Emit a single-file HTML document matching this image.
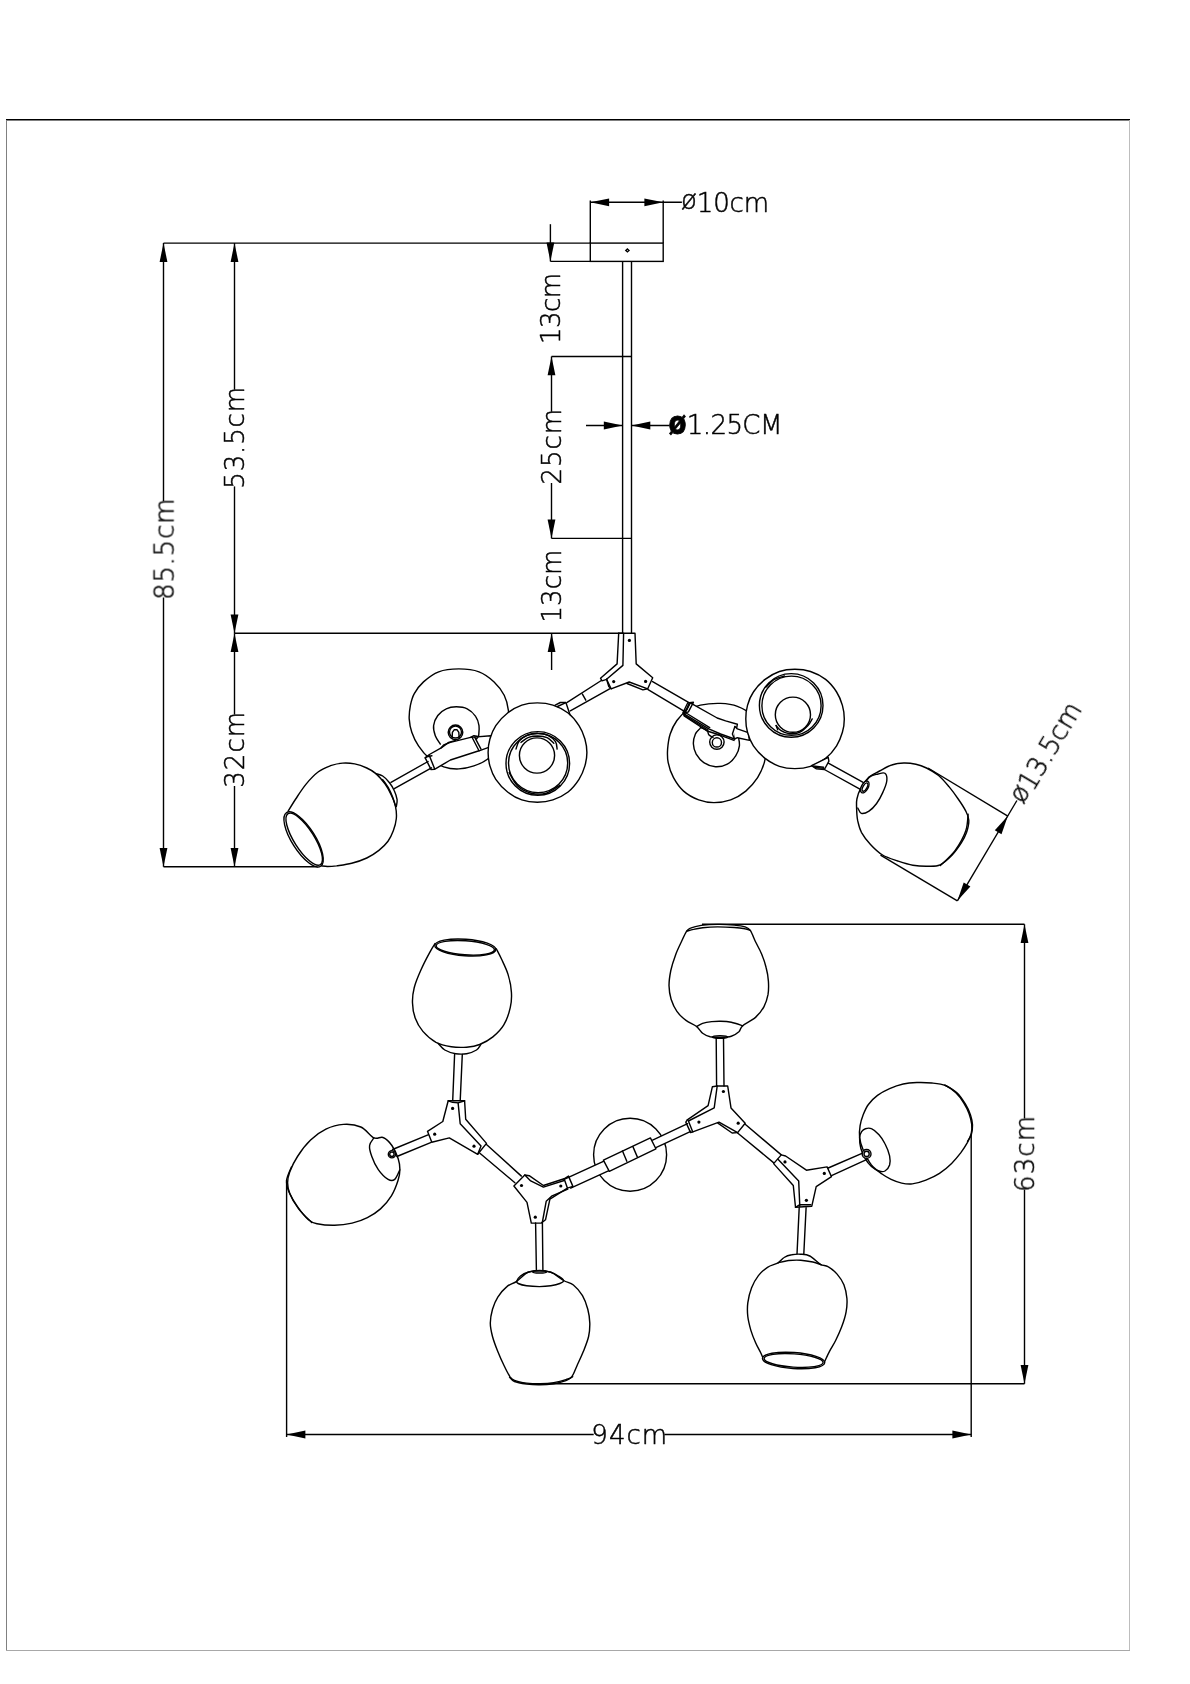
<!DOCTYPE html>
<html><head><meta charset="utf-8"><title>Dimensions</title>
<style>
html,body{margin:0;padding:0;background:#fff}
svg{display:block}
.l{stroke:#000;stroke-width:1.4;fill:none;stroke-linecap:butt}
.s{stroke:#000;stroke-width:1.42;fill:none;stroke-linejoin:round;stroke-linecap:round}
.w{stroke:#000;stroke-width:1.42;fill:#fff;stroke-linejoin:round;stroke-linecap:round}
.k{fill:#000;stroke:none}
.f{fill:#fff;stroke:none}
.a{fill:#000;stroke:none}
.t{font-family:"DejaVu Sans Light","DejaVu Sans","Liberation Sans",sans-serif;font-weight:200;fill:#000;stroke:#000;stroke-width:.5}
.tg{opacity:.999}
.b{font-family:"DejaVu Sans","Liberation Sans",sans-serif;font-weight:700;stroke-width:.8}
</style></head><body>
<svg width="1190" height="1684" viewBox="0 0 1190 1684">
<rect width="1190" height="1684" fill="#fff"/>
<line x1="6" y1="119.8" x2="1130" y2="119.8" stroke="#000" stroke-width="1.5"/>
<line x1="6.5" y1="120" x2="6.5" y2="1651" stroke="#808080" stroke-width="1"/>
<line x1="1129.5" y1="120" x2="1129.5" y2="1651" stroke="#bdbdbd" stroke-width="1"/>
<line x1="6" y1="1650.5" x2="1130" y2="1650.5" stroke="#a8a8a8" stroke-width="1"/>
<rect class="l" x="590.3" y="243.1" width="72.9" height="18.3"/>
<line class="l" x1="590.3" y1="200.5" x2="590.3" y2="243.1"/>
<line class="l" x1="663.2" y1="200.5" x2="663.2" y2="243.1"/>
<line class="l" x1="590.3" y1="202.3" x2="681.9" y2="202.3"/>
<polygon class="a" points="590.3,202.3 609.1,198.4 609.1,206.2"/>
<polygon class="a" points="663.2,202.3 644.4,206.2 644.4,198.4"/>
<path class="l" d="M627.4 248.9 L629 250.4 L627.4 251.9 L625.8 250.4 Z"/>
<line class="l" x1="622.6" y1="261.4" x2="622.6" y2="633.2"/>
<line class="l" x1="631.5" y1="261.4" x2="631.5" y2="633.2"/>
<line class="l" x1="163.5" y1="243.1" x2="590.3" y2="243.1"/>
<line class="l" x1="550.4" y1="261.4" x2="590.3" y2="261.4"/>
<line class="l" x1="550.4" y1="224.2" x2="550.4" y2="261.4"/>
<polygon class="a" points="550.4,261.4 546.5,242.6 554.3,242.6"/>
<line class="l" x1="551.5" y1="356.5" x2="631.5" y2="356.5"/>
<line class="l" x1="551.5" y1="538.4" x2="631.5" y2="538.4"/>
<line class="l" x1="551.5" y1="356.5" x2="551.5" y2="411.8"/>
<line class="l" x1="551.5" y1="483" x2="551.5" y2="538.4"/>
<polygon class="a" points="551.5,356.5 555.4,375.3 547.6,375.3"/>
<polygon class="a" points="551.5,538.4 547.6,519.6 555.4,519.6"/>
<line class="l" x1="234.5" y1="633.2" x2="622.6" y2="633.2"/>
<line class="l" x1="551.6" y1="633.2" x2="551.6" y2="670"/>
<polygon class="a" points="551.6,633.2 555.5,652.0 547.7,652.0"/>
<line class="l" x1="586" y1="425.5" x2="622.6" y2="425.5"/>
<polygon class="a" points="622.6,425.5 603.8,429.4 603.8,421.6"/>
<line class="l" x1="631.5" y1="425.5" x2="669.6" y2="425.5"/>
<polygon class="a" points="631.5,425.5 650.3,421.6 650.3,429.4"/>
<line class="l" x1="163.5" y1="243.1" x2="163.5" y2="501.3"/>
<line class="l" x1="163.5" y1="597.6" x2="163.5" y2="866.7"/>
<polygon class="a" points="163.5,243.1 167.4,261.9 159.6,261.9"/>
<polygon class="a" points="163.5,866.7 159.6,847.9 167.4,847.9"/>
<line class="l" x1="234.5" y1="243.1" x2="234.5" y2="389.7"/>
<line class="l" x1="234.5" y1="486.4" x2="234.5" y2="633.2"/>
<polygon class="a" points="234.5,243.1 238.4,261.9 230.6,261.9"/>
<polygon class="a" points="234.5,633.2 230.6,614.4 238.4,614.4"/>
<line class="l" x1="234.5" y1="633.2" x2="234.5" y2="714.6"/>
<line class="l" x1="234.5" y1="786" x2="234.5" y2="866.7"/>
<polygon class="a" points="234.5,633.2 238.4,652.0 230.6,652.0"/>
<polygon class="a" points="234.5,866.7 230.6,847.9 238.4,847.9"/>
<line class="l" x1="163.5" y1="866.7" x2="318" y2="866.7"/>
<line class="l" x1="928" y1="768" x2="1007.8" y2="816.1"/>
<line class="l" x1="880.5" y1="855.2" x2="957.4" y2="900.8"/>
<line class="l" x1="957.4" y1="900.8" x2="1016.9" y2="800.5"/>
<polygon class="a" points="1007.8,816.1 1001.5,834.3 994.8,830.3"/>
<polygon class="a" points="957.4,900.8 963.7,882.6 970.4,886.6"/>
<line class="l" x1="702" y1="924.3" x2="1024.5" y2="924.3"/>
<line class="l" x1="1024.5" y1="924.3" x2="1024.5" y2="1118.5"/>
<line class="l" x1="1024.5" y1="1189.7" x2="1024.5" y2="1383.8"/>
<polygon class="a" points="1024.5,924.3 1028.4,943.1 1020.6,943.1"/>
<polygon class="a" points="1024.5,1383.8 1020.6,1365.0 1028.4,1365.0"/>
<line class="l" x1="539" y1="1383.8" x2="1024.5" y2="1383.8"/>
<line class="l" x1="971.2" y1="1127" x2="971.2" y2="1437"/>
<line class="l" x1="286.6" y1="1180" x2="286.6" y2="1437"/>
<line class="l" x1="286.6" y1="1434.5" x2="593.7" y2="1434.5"/>
<line class="l" x1="664.4" y1="1434.5" x2="971.2" y2="1434.5"/>
<polygon class="a" points="286.6,1434.5 305.4,1430.6 305.4,1438.4"/>
<polygon class="a" points="971.2,1434.5 952.4,1438.4 952.4,1430.6"/>
<g class="tg">
<text class="t" font-size="26" letter-spacing="-0.18" x="681.12" y="211.6"><tspan dy="-2.6">ø</tspan><tspan dy="2.6">10cm</tspan></text>
<text class="t b" font-size="32" transform="translate(669.3,433.6) scale(0.82,1)" x="-0.96" y="0">ø</text>
<text class="t" font-size="26" letter-spacing="-0.58" x="686.80" y="434">1.25CM</text>
<text class="t" font-size="26" letter-spacing="-0.50" transform="translate(559.80,341.5) rotate(-90)" x="-2.60" y="0">13cm</text>
<text class="t" font-size="26" letter-spacing="0.99" transform="translate(560.80,483) rotate(-90)" x="-1.56" y="0">25cm</text>
<text class="t" font-size="26" letter-spacing="0.07" transform="translate(561.40,620) rotate(-90)" x="-2.60" y="0">13cm</text>
<text class="t" font-size="26" letter-spacing="0.85" transform="translate(244.00,486.4) rotate(-90)" x="-2.34" y="0">53.5cm</text>
<text class="t" font-size="26" letter-spacing="0.77" transform="translate(173.60,597.6) rotate(-90)" x="-2.34" y="0">85.5cm</text>
<text class="t" font-size="26" letter-spacing="1.04" transform="translate(244.10,785.9) rotate(-90)" x="-1.82" y="0">32cm</text>
<text class="t" font-size="26" letter-spacing="1.18" transform="translate(1034.10,1189.7) rotate(-90)" x="-2.34" y="0">63cm</text>
<text class="t" font-size="26" letter-spacing="1.01" x="591.36" y="1443.7">94cm</text>
<text class="t" font-size="26" letter-spacing="-0.09" transform="translate(1016.70,800.20) rotate(-59.25)" x="-0.78" y="10.2"><tspan dy="-2.6">ø</tspan><tspan dy="2.6">13.5cm</tspan></text>
</g>
<path class="w" d="M458.8 668.9C465.5 668.9 473.1 669.6 479.0 671.8C484.9 674.0 489.9 678.0 494.1 681.9C498.3 685.8 501.8 690.6 504.2 695.3C506.6 700.1 507.8 704.9 508.4 710.5C509.0 716.1 508.8 723.1 507.6 728.9C506.3 734.8 504.2 740.7 500.8 745.8C497.5 750.8 491.9 755.8 487.4 759.2C482.9 762.6 478.7 764.3 473.9 765.9C469.2 767.5 463.9 768.8 458.8 768.9C453.8 769.1 448.6 768.5 443.7 766.8C438.8 765.0 433.6 761.9 429.4 758.4C425.2 754.9 421.4 750.1 418.5 745.8C415.5 741.4 413.3 736.8 411.8 732.3C410.2 727.8 409.5 723.3 409.2 718.9C409.0 714.4 409.6 709.6 410.4 705.4C411.3 701.2 412.1 697.6 414.3 693.7C416.5 689.7 419.5 685.5 423.5 681.9C427.6 678.2 432.8 674.0 438.7 671.8C444.5 669.6 452.1 668.9 458.8 668.9Z"/>
<path class="s" d="M440.3 744.1C439.5 742.7 436.4 738.8 435.3 735.7C434.2 732.6 433.2 728.9 433.6 725.6C434.0 722.2 435.7 718.3 437.8 715.5C439.9 712.7 443.1 710.2 446.2 708.8C449.3 707.3 452.8 706.8 456.3 706.8C459.8 706.8 464.0 707.2 467.2 708.8C470.4 710.4 473.7 713.5 475.6 716.3C477.6 719.1 478.5 722.4 479.0 725.6C479.5 728.8 478.7 734.0 478.7 735.7"/>
<circle class="s" cx="455.5" cy="732.3" r="7.3"/>
<circle class="s" cx="455.5" cy="732.0" r="6.0"/>
<path class="s" d="M452.1 738.2L452.4 732.3L454.1 729.8L457.1 729.8L458.8 732.3L459.2 738.2"/>
<path class="w" d="M425.2 757.9L429.4 754.5L441.2 747.8L443.7 744.9L450.4 742.4L455.5 741.1L470.6 737.4L490.8 735.7L490.8 746.6L479.0 750.8L450.4 760.0L434.5 769.3L431.1 769.6L425.2 757.9Z"/>
<path class="s" d="M470.6 737.4L473.9 735.7L478.2 736.5L476.5 739.0"/>
<path class="s" d="M472.3 737.7L479.0 750.8"/>
<path class="s" d="M474.8 737.4L481.0 749.1"/>
<path class="s" d="M429.4 755.8L434.5 768.4"/>
<path class="s" d="M425.2 757.9L426.9 756.7L431.9 755.8"/>
<path class="s" d="M441.2 747.8L448.7 742.4L455.5 740.4"/>
<path class="w" d="M288.2 811.1C289.4 809.1 292.7 803.5 295.7 799.0C298.7 794.5 302.5 788.4 306.3 783.9C310.1 779.3 314.4 774.8 318.4 771.8C322.4 768.7 326.5 767.2 330.5 765.7C334.5 764.3 338.6 763.4 342.6 763.1C346.6 762.8 350.7 763.1 354.7 763.9C358.7 764.7 363.3 766.4 366.8 768.0C370.3 769.6 372.9 770.9 375.9 773.6C378.9 776.2 382.4 780.4 385.0 783.9C387.5 787.3 389.2 790.7 391.0 794.5C392.8 798.2 394.7 802.5 395.5 806.6C396.4 810.6 396.7 814.6 396.3 818.7C395.9 822.7 394.7 827.0 393.3 830.8C391.9 834.5 390.4 838.1 388.0 841.3C385.6 844.6 382.4 847.6 378.9 850.4C375.4 853.2 371.3 855.8 366.8 858.0C362.3 860.1 356.7 862.0 351.7 863.3C346.6 864.6 340.6 865.3 336.6 865.9C332.5 866.4 330.0 866.5 327.5 866.5C325.0 866.5 322.4 866.0 321.4 865.9"/>
<ellipse class="w" cx="303.6" cy="839.4" rx="31.8" ry="11.6" transform="rotate(57.6 303.6 839.4)"/>
<ellipse class="s" cx="304.2" cy="839.2" rx="30.2" ry="10.0" transform="rotate(57.6 304.2 839.2)"/>
<path class="s" d="M375.9 773.6C377.0 774.0 380.4 774.5 382.7 776.0C385.0 777.5 387.6 780.2 389.5 782.7C391.4 785.1 393.1 787.8 394.3 790.7C395.6 793.5 396.7 797.1 397.1 799.7C397.4 802.4 396.4 805.4 396.3 806.6"/>
<path class="s" d="M382.7 779.6C383.7 781.1 387.1 785.4 388.7 788.4C390.4 791.4 391.7 794.7 392.8 797.5C393.9 800.3 394.8 803.8 395.2 805.0"/>
<path class="s" d="M391.0 782.4L428.1 761.5"/>
<path class="s" d="M394.3 788.7L431.5 767.8"/>
<path class="w" d="M720.6 703.4C726.8 703.6 732.1 704.2 737.4 706.3C742.7 708.3 748.3 711.4 752.5 715.5C756.7 719.6 760.4 725.0 762.6 730.6C764.8 736.2 765.7 743.8 766.0 749.1C766.2 754.4 765.7 757.8 764.3 762.6C762.9 767.3 760.6 772.9 757.6 777.7C754.5 782.5 750.3 787.4 745.8 791.1C741.3 794.8 736.0 798.0 730.7 799.9C725.4 801.8 719.2 802.6 713.9 802.6C708.5 802.6 703.8 801.8 698.7 799.9C693.7 798.0 687.8 794.8 683.6 791.1C679.4 787.4 676.1 782.5 673.5 777.7C671.0 772.9 669.1 767.3 668.2 762.6C667.2 757.8 667.3 753.9 667.6 749.1C668.0 744.4 668.6 738.8 670.2 734.0C671.7 729.2 674.1 724.5 676.9 720.5C679.7 716.6 683.1 713.0 687.0 710.5C690.9 707.9 694.8 706.3 700.4 705.1C706.0 703.9 714.4 703.2 720.6 703.4Z"/>
<path class="s" d="M700.1 728.4C699.3 729.4 696.5 731.4 695.4 734.0C694.3 736.6 693.2 740.7 693.4 744.1C693.5 747.4 694.5 751.1 696.2 754.2C698.0 757.2 700.6 760.5 703.8 762.6C707.0 764.7 711.6 766.5 715.5 766.8C719.5 767.0 723.9 766.1 727.3 764.2C730.7 762.4 733.7 758.9 735.7 755.8C737.7 752.8 739.0 749.1 739.4 745.8C739.8 742.4 738.4 737.4 738.2 735.7"/>
<circle class="s" cx="716.9" cy="742.1" r="7.2"/>
<circle class="s" cx="716.9" cy="742.4" r="4.6"/>
<path class="s" d="M700.4 727.3C701.5 727.8 705.7 729.4 707.1 730.6C708.5 731.9 707.8 733.7 708.8 734.8C709.8 736.0 712.3 736.9 713.0 737.4"/>
<path class="w" d="M690.3 702.9L717.2 718.0L725.6 720.9L737.4 724.2L734.5 739.0L720.6 734.0L708.8 728.9L684.5 714.2Z"/>
<path class="s" d="M683.6 714.8L708.0 730.0"/>
<path class="s" d="M684.1 715.8L707.1 731.0L720.6 735.3L734.0 740.4"/>
<path class="s" d="M686.1 713.0L709.7 727.6"/>
<path class="s" d="M689.5 703.4L684.5 713.0"/>
<path class="s" d="M687.8 702.7L682.8 713.0L684.5 714.2"/>
<path class="w" d="M734.9 726.4L737.4 728.9L748.3 732.6L749.5 740.4L737.4 737.7L734.5 739.0"/>
<path class="s" d="M734.9 726.4L732.4 734.0L734.5 739.0"/>
<path class="s" d="M652.6 681.6L689.4 702.8"/>
<path class="s" d="M648.1 689.7L684.4 711.3"/>
<path class="s" d="M689.4 702.8L693.4 702.3L688.4 711.8L683.4 713.6L684.4 711.3"/>
<path class="s" d="M689.4 702.8L686.9 709.3L684.4 711.3"/>
<path class="w" d="M537.3 702.9C542.5 702.9 547.8 703.4 552.9 705.1C558.1 706.8 563.7 709.6 568.1 713.0C572.4 716.4 576.2 721.2 579.0 725.6C581.8 729.9 583.6 734.6 584.9 739.0C586.2 743.5 586.9 748.0 586.9 752.5C586.9 757.0 586.2 761.4 584.9 765.9C583.6 770.4 581.8 775.0 579.0 779.4C576.2 783.7 572.4 788.6 568.1 792.0C563.7 795.4 558.1 798.2 552.9 799.9C547.8 801.6 542.5 802.2 537.3 802.2C532.1 802.2 526.8 801.6 521.8 799.9C516.9 798.2 511.9 795.4 507.6 792.0C503.2 788.6 498.7 783.7 495.8 779.4C492.9 775.0 491.2 770.4 489.9 765.9C488.6 761.4 488.1 757.0 488.1 752.5C488.1 748.0 488.6 743.5 489.9 739.0C491.2 734.6 492.9 729.9 495.8 725.6C498.7 721.2 503.2 716.4 507.6 713.0C511.9 709.6 516.9 706.8 521.8 705.1C526.8 703.4 532.1 702.9 537.3 702.9Z"/>
<circle class="s" cx="537.8" cy="763.4" r="31.8"/>
<circle class="s" cx="538.1" cy="763.1" r="29.6"/>
<path class="s" d="M509.2 772.6C510.6 774.9 514.0 782.7 517.6 786.1C521.3 789.5 526.3 792.0 531.1 793.2C535.9 794.3 541.5 794.5 546.2 793.2C551.0 791.8 557.4 786.6 559.7 785.3"/>
<circle class="s" cx="537.0" cy="755.5" r="17.6"/>
<path class="s" d="M516.0 749.1C516.5 747.7 517.4 743.1 519.3 740.7C521.3 738.3 524.6 736.1 527.7 734.8C530.8 733.6 534.5 733.1 537.8 733.2C541.2 733.2 545.0 733.9 547.9 735.3C550.8 736.7 553.9 739.3 555.5 741.6C557.0 743.9 556.9 747.9 557.1 749.1"/>
<path class="s" d="M521.0 742.4C522.3 741.6 525.8 738.4 528.6 737.4C531.4 736.3 534.7 736.0 537.8 736.0C540.9 736.1 544.4 736.5 547.1 737.7C549.7 738.9 552.7 742.3 553.8 743.2"/>
<path class="s" d="M554.8 705.3L560.3 702.5L565.9 702.5L569.9 714.4"/>
<path class="s" d="M557.5 706.5L565.9 702.7"/>
<path class="s" d="M601.3 680.5L567.2 702.4"/>
<path class="s" d="M609.6 688.8L570.3 710.8"/>
<path class="s" d="M582.4 694.1L585.8 700.2"/>
<path class="w" d="M794.9 669.3C800.1 669.3 805.4 669.8 810.5 671.5C815.6 673.2 821.3 676.0 825.6 679.4C830.0 682.8 833.8 687.6 836.6 692.0C839.4 696.3 841.1 700.9 842.4 705.4C843.7 709.9 844.3 714.4 844.3 718.9C844.3 723.3 843.7 727.8 842.4 732.3C841.1 736.8 839.4 741.4 836.6 745.8C833.8 750.1 830.0 754.9 825.6 758.4C821.3 761.8 815.6 764.6 810.5 766.3C805.4 768.0 800.1 768.6 794.9 768.6C789.7 768.6 784.4 768.0 779.4 766.3C774.5 764.6 769.5 761.8 765.1 758.4C760.8 754.9 756.3 750.1 753.4 745.8C750.4 741.4 748.7 736.8 747.5 732.3C746.2 727.8 745.8 723.3 745.8 718.9C745.8 714.4 746.2 709.9 747.5 705.4C748.7 700.9 750.4 696.3 753.4 692.0C756.3 687.6 760.8 682.8 765.1 679.4C769.5 676.0 774.5 673.2 779.4 671.5C784.4 669.8 789.7 669.3 794.9 669.3Z"/>
<circle class="s" cx="791.2" cy="705.4" r="31.8"/>
<circle class="s" cx="791.5" cy="705.7" r="29.6"/>
<path class="s" d="M766.0 686.9C767.4 685.7 771.3 681.2 774.4 679.4C777.5 677.5 782.8 676.6 784.5 676.0"/>
<circle class="s" cx="792.9" cy="714.7" r="17.6"/>
<path class="s" d="M776.1 725.6C776.9 726.4 778.9 729.3 781.1 730.6C783.3 732.0 786.4 733.4 789.5 733.7C792.6 733.9 796.5 733.7 799.6 732.3C802.7 731.0 805.9 727.8 808.0 725.6C810.1 723.3 811.5 720.0 812.2 718.9"/>
<path class="s" d="M776.1 725.6L777.7 729.8"/>
<path class="s" d="M827.4 762.7L864.5 783.1"/>
<path class="s" d="M824.4 769.5L859.9 789.2"/>
<path class="w" d="M811.5 765.7L828.2 757.4L828.9 761.2L824.4 769.5L816.1 768.7Z"/>
<path class="s" d="M813.0 766.0L823.6 767.2"/>
<path class="s" d="M814.5 767.2L823.9 768.4"/>
<path class="w" d="M869.0 777.1C872.1 774.2 875.8 773.0 879.6 771.0C883.4 769.0 887.6 766.3 891.7 765.0C895.7 763.6 899.7 763.1 903.8 763.0C907.8 762.9 912.1 763.4 915.9 764.2C919.7 765.0 922.7 766.1 926.5 768.0C930.3 769.9 934.8 772.4 938.6 775.5C942.4 778.7 945.9 783.0 949.2 786.9C952.4 790.8 955.5 795.0 958.2 799.0C961.0 803.0 964.0 807.6 965.8 811.1C967.6 814.6 968.7 816.6 968.8 820.2C969.0 823.7 967.8 828.5 966.6 832.3C965.3 836.1 963.7 839.1 961.3 842.9C958.9 846.6 955.7 851.3 952.2 855.0C948.7 858.6 944.1 862.9 940.1 864.8C936.1 866.7 932.5 866.2 928.0 866.3C923.4 866.4 917.9 866.1 912.9 865.2C907.8 864.4 902.8 862.7 897.7 861.0C892.7 859.3 887.1 857.7 882.6 855.0C878.1 852.2 874.0 848.2 870.5 844.4C867.0 840.6 863.6 836.3 861.4 832.3C859.3 828.2 858.5 824.2 857.6 820.2C856.8 816.1 856.7 811.6 856.6 808.1C856.5 804.5 856.2 802.3 856.9 799.0C857.6 795.7 858.7 792.1 860.7 788.4C862.7 784.7 865.8 780.0 869.0 777.1Z"/>
<path class="s" d="M859.9 791.4C861.4 789.1 866.0 780.4 869.0 777.5C872.0 774.6 875.4 774.7 878.1 774.0C880.7 773.3 883.4 772.1 884.9 773.3C886.3 774.4 887.2 777.6 886.8 780.8C886.5 784.1 884.3 789.2 882.6 792.9C880.9 796.7 878.8 800.5 876.6 803.5C874.3 806.6 871.5 809.5 869.0 811.1C866.5 812.7 863.3 813.9 861.4 813.4C859.6 812.9 858.4 809.0 857.8 808.1"/>
<path class="s" d="M968.1 814.1C967.7 816.9 967.9 824.7 965.8 830.8C963.7 836.8 959.4 844.6 955.2 850.4C951.0 856.2 942.9 863.0 940.4 865.5"/>
<ellipse class="w" cx="864.8" cy="787.0" rx="3.3" ry="6.4" transform="rotate(29.0 864.8 787.0)"/>
<ellipse class="s" cx="865.0" cy="787.1" rx="2.0" ry="4.6" transform="rotate(29.0 865.0 787.1)"/>
<path class="w" d="M618.7 633.3L617.1 663.9L600.5 678.2L602.0 680.8L606.6 679.3"/>
<path class="w" d="M623.6 633.3L635.0 633.3L636.2 663.9L652.7 677.8L647.7 688.8L629.2 682.0L611.1 688.8L606.6 679.3L622.9 665.4Z"/>
<path class="s" d="M618.7 633.3L623.6 633.3"/>
<path class="s" d="M627.0 683.5L642.9 689.9L647.7 688.8"/>
<path class="s" d="M606.6 679.3L608.8 686.6L611.1 688.8"/>
<circle class="k" cx="629.4" cy="640.4" r="1.6"/>
<circle class="k" cx="613.7" cy="681.6" r="1.6"/>
<circle class="k" cx="645.6" cy="681.4" r="1.6"/>
<circle class="w" cx="630.1" cy="1154.7" r="36.5"/>
<path class="f" d="M564.1 1179.4L604.5 1160.8L608.9 1170.7L570.7 1188.1Z"/>
<path class="f" d="M652.6 1140.1L687.6 1123.7L690.8 1131.3L655.9 1147.7Z"/>
<path class="s" d="M564.1 1179.4L604.5 1160.8"/>
<path class="s" d="M570.7 1188.1L608.9 1170.7"/>
<path class="s" d="M652.6 1140.1L687.6 1123.7"/>
<path class="s" d="M655.9 1147.7L690.8 1131.3"/>
<path class="w" d="M603.4 1160.2L650.4 1137.9L655.9 1148.8L609.3 1171.3Z"/>
<path class="s" d="M622.5 1151.0L626.8 1161.3"/>
<path class="s" d="M632.9 1146.6L637.3 1156.9"/>
<path class="w" d="M435.0 943.6C434.0 945.1 431.9 948.3 429.5 952.8C427.1 957.2 423.3 964.4 420.8 970.3C418.2 976.1 415.6 982.3 414.2 987.7C412.8 993.2 412.3 997.9 412.5 1003.0C412.6 1008.1 413.5 1013.6 415.3 1018.3C417.0 1023.1 419.5 1027.4 422.9 1031.4C426.4 1035.4 431.3 1039.8 436.0 1042.4C440.8 1044.9 446.2 1045.9 451.3 1046.7C456.4 1047.5 461.9 1047.5 466.6 1047.2C471.4 1046.8 475.4 1046.2 479.7 1044.5C484.1 1042.8 488.8 1040.2 492.9 1036.9C496.9 1033.6 500.9 1029.8 503.8 1024.9C506.7 1020.0 509.1 1012.9 510.3 1007.4C511.6 1001.9 511.8 997.6 511.4 992.1C511.1 986.6 509.8 980.1 508.1 974.6C506.5 969.2 503.6 963.6 501.6 959.3C499.6 955.0 497.2 950.6 496.3 948.8"/>
<ellipse class="w" cx="465.3" cy="947.5" rx="30.6" ry="8.3" transform="rotate(4.0 465.3 947.5)"/>
<ellipse class="s" cx="465.3" cy="947.8" rx="29.2" ry="7.0" transform="rotate(4.0 465.3 947.8)"/>
<path class="s" d="M438.2 1043.4C439.3 1044.5 441.9 1048.3 444.8 1050.0C447.7 1051.7 452.1 1053.1 455.7 1053.7C459.4 1054.3 463.2 1054.3 466.6 1053.7C470.1 1053.1 474.1 1051.5 476.5 1050.0C478.8 1048.5 480.1 1045.4 480.8 1044.5"/>
<path class="s" d="M454.6 1054.4L452.7 1100.9"/>
<path class="s" d="M462.3 1054.4L460.2 1100.9"/>
<path class="w" d="M373.9 1137.9C370.2 1136.2 365.9 1129.2 360.8 1127.0C355.7 1124.7 349.2 1124.0 343.4 1124.4C337.5 1124.7 331.3 1126.5 325.9 1129.2C320.4 1131.8 315.3 1135.5 310.6 1140.1C305.9 1144.6 300.9 1151.2 297.5 1156.5C294.0 1161.7 291.5 1167.4 289.8 1171.8C288.2 1176.1 287.6 1179.0 287.6 1182.7C287.6 1186.3 288.2 1189.6 289.8 1193.6C291.5 1197.6 294.4 1202.4 297.5 1206.7C300.6 1211.1 305.1 1217.0 308.4 1219.8C311.7 1222.7 312.8 1222.9 317.1 1223.8C321.5 1224.7 328.8 1225.4 334.6 1225.3C340.4 1225.2 346.6 1224.4 352.1 1223.1C357.6 1221.8 362.7 1220.0 367.4 1217.6C372.1 1215.3 376.5 1212.5 380.5 1208.9C384.5 1205.3 388.5 1200.5 391.4 1195.8C394.3 1191.1 396.6 1184.9 398.0 1180.5C399.4 1176.1 399.9 1173.2 399.9 1169.6C400.0 1165.9 399.5 1162.7 398.2 1158.7C396.9 1154.6 394.4 1149.1 391.9 1145.5C389.4 1142.0 386.1 1138.7 383.1 1137.5C380.1 1136.2 377.7 1139.6 373.9 1137.9Z"/>
<path class="s" d="M373.9 1137.9C373.2 1139.2 369.9 1142.4 369.6 1145.5C369.2 1148.6 370.3 1152.5 371.8 1156.5C373.2 1160.5 375.6 1165.8 378.3 1169.6C381.0 1173.4 385.4 1177.8 388.1 1179.4C390.9 1181.0 392.8 1181.0 394.7 1179.4C396.6 1177.8 398.9 1171.6 399.7 1170.0"/>
<path class="s" d="M291.4 1167.0C290.6 1169.2 286.9 1176.2 286.6 1180.5C286.2 1184.8 287.2 1187.8 289.2 1192.5C291.2 1197.3 294.8 1203.9 298.6 1208.9C302.3 1213.9 309.5 1220.2 311.7 1222.5"/>
<circle class="w" cx="391.9" cy="1154.3" r="3.6"/>
<circle class="s" cx="391.9" cy="1154.3" r="2.2"/>
<path class="s" d="M392.5 1149.5L428.6 1134.6"/>
<path class="s" d="M396.9 1156.5L431.2 1142.3"/>
<path class="w" d="M448.2 1100.8L464.6 1100.8L465.7 1119.3L486.5 1143.4L477.7 1154.3L449.3 1137.9L431.8 1142.3L427.5 1131.3L442.8 1121.5Z"/>
<path class="s" d="M448.2 1100.8L452.6 1102.3L458.1 1102.9L464.6 1100.8"/>
<path class="s" d="M458.1 1102.9L460.2 1123.7L481.0 1146.0L477.7 1154.3"/>
<circle class="k" cx="452.6" cy="1108.4" r="1.6"/>
<circle class="k" cx="434.7" cy="1134.2" r="1.6"/>
<circle class="k" cx="474.0" cy="1146.2" r="1.6"/>
<path class="s" d="M486.5 1144.5L521.4 1176.1"/>
<path class="s" d="M479.9 1153.2L514.9 1182.7"/>
<path class="w" d="M513.9 1186.0L524.8 1175.0L529.2 1175.7L543.4 1185.5L564.1 1178.8L567.4 1188.1L549.9 1199.1L545.5 1219.8L541.2 1223.1L531.3 1223.1L527.0 1202.4Z"/>
<path class="s" d="M524.8 1175.0L530.7 1180.9L543.4 1187.1L564.1 1180.5"/>
<path class="s" d="M542.3 1222.5L546.2 1201.3L552.1 1195.8L567.8 1189.2"/>
<path class="s" d="M564.1 1178.8L568.5 1176.1L572.9 1186.4L567.4 1188.1"/>
<circle class="k" cx="521.5" cy="1185.5" r="1.6"/>
<circle class="k" cx="560.8" cy="1186.0" r="1.6"/>
<circle class="k" cx="535.3" cy="1217.2" r="1.6"/>
<path class="w" d="M687.3 1119.9L708.1 1105.7L712.4 1086.7L717.2 1086.0"/>
<path class="w" d="M717.2 1086.0L727.7 1086.0L731.0 1107.9L745.2 1123.2L737.6 1132.6L719.0 1122.1L692.8 1131.9L688.4 1121.0L714.2 1107.9Z"/>
<path class="s" d="M717.9 1123.2L732.1 1133.0L737.6 1132.6"/>
<path class="s" d="M687.3 1119.9L685.8 1122.1L690.6 1132.6L692.8 1131.9"/>
<circle class="k" cx="723.4" cy="1091.5" r="1.6"/>
<circle class="k" cx="698.9" cy="1122.1" r="1.6"/>
<circle class="k" cx="738.2" cy="1123.2" r="1.6"/>
<path class="s" d="M745.2 1124.3L781.3 1154.9"/>
<path class="s" d="M737.6 1133.0L774.7 1163.6"/>
<path class="w" d="M773.6 1163.6L781.3 1154.9L785.6 1156.0L806.4 1170.2L827.1 1166.9L831.5 1176.7L816.2 1186.6L811.8 1206.2L795.5 1207.3L793.3 1185.5Z"/>
<path class="s" d="M778.0 1159.2L798.7 1181.1L799.8 1206.2"/>
<path class="s" d="M795.5 1207.3L799.8 1204.7L810.8 1204.7"/>
<circle class="k" cx="785.0" cy="1161.9" r="1.6"/>
<circle class="k" cx="824.3" cy="1173.4" r="1.6"/>
<circle class="k" cx="806.4" cy="1200.3" r="1.6"/>
<path class="s" d="M828.2 1168.0L864.3 1152.3"/>
<path class="s" d="M831.5 1175.6L867.6 1159.2"/>
<path class="w" d="M860.1 1125.6C860.7 1121.8 861.7 1118.6 863.1 1115.0C864.5 1111.5 866.0 1107.7 868.4 1104.5C870.8 1101.2 874.0 1098.0 877.5 1095.4C881.0 1092.7 885.3 1090.5 889.6 1088.6C893.9 1086.7 898.7 1085.0 903.2 1084.0C907.7 1083.0 912.0 1082.7 916.8 1082.5C921.6 1082.3 927.1 1082.5 931.9 1083.0C936.7 1083.5 941.5 1083.9 945.5 1085.5C949.6 1087.2 953.1 1090.2 956.1 1093.1C959.2 1096.0 961.6 1099.5 963.7 1102.9C965.8 1106.3 967.7 1110.0 969.0 1113.5C970.3 1117.1 971.3 1120.8 971.7 1124.1C972.1 1127.4 972.0 1130.2 971.3 1133.2C970.6 1136.2 969.2 1139.0 967.5 1142.3C965.7 1145.5 963.3 1149.3 960.7 1152.9C958.0 1156.4 955.1 1160.0 951.6 1163.4C948.1 1166.9 943.8 1170.5 939.5 1173.3C935.2 1176.1 930.4 1178.3 925.9 1180.1C921.3 1181.9 916.3 1183.4 912.3 1183.9C908.2 1184.4 905.2 1183.9 901.7 1183.1C898.2 1182.4 894.4 1180.8 891.1 1179.3C887.8 1177.8 885.3 1176.4 882.0 1174.0C878.7 1171.6 874.6 1169.0 871.4 1165.0C868.3 1160.9 865.1 1154.4 863.1 1149.8C861.1 1145.3 860.1 1141.8 859.6 1137.7C859.1 1133.7 859.5 1129.4 860.1 1125.6Z"/>
<path class="s" d="M865.4 1128.7C867.0 1128.2 869.2 1127.6 871.4 1128.7C873.7 1129.7 876.7 1132.2 879.0 1134.7C881.3 1137.2 883.3 1140.3 885.0 1143.8C886.8 1147.3 888.8 1152.4 889.6 1155.9C890.3 1159.4 890.3 1162.4 889.6 1165.0C888.8 1167.5 886.8 1170.0 885.0 1171.0C883.3 1172.0 881.3 1171.8 879.0 1171.0C876.7 1170.3 873.7 1168.5 871.4 1166.5C869.2 1164.5 867.1 1161.9 865.4 1158.9C863.6 1155.9 861.8 1151.9 860.8 1148.3C859.9 1144.8 859.5 1140.5 859.6 1137.7C859.8 1135.0 860.6 1133.2 861.6 1131.7C862.6 1130.2 863.7 1129.2 865.4 1128.7Z"/>
<path class="s" d="M944.8 1085.1C946.8 1086.4 953.5 1089.6 956.9 1092.7C960.3 1095.8 962.9 1100.0 965.2 1103.7C967.5 1107.4 969.3 1111.5 970.5 1115.0C971.7 1118.6 972.3 1121.6 972.5 1124.9C972.6 1128.2 972.1 1131.9 971.3 1134.7C970.4 1137.5 968.1 1140.4 967.5 1141.5"/>
<circle class="w" cx="866.6" cy="1153.9" r="4.4"/>
<circle class="s" cx="866.6" cy="1153.9" r="2.6"/>
<path class="s" d="M535.6 1223.0L536.4 1270.7"/>
<path class="s" d="M542.4 1223.0L542.9 1270.7"/>
<path class="w" d="M516.7 1281.3C513.2 1283.7 510.0 1283.9 506.9 1286.6C503.7 1289.2 500.2 1293.4 497.8 1297.1C495.4 1300.9 493.8 1305.0 492.5 1309.2C491.3 1313.5 490.3 1318.3 490.3 1322.9C490.3 1327.4 491.3 1331.7 492.5 1336.5C493.8 1341.3 495.9 1346.8 497.8 1351.6C499.7 1356.4 501.8 1361.1 503.9 1365.2C505.9 1369.4 508.2 1374.0 509.9 1376.6C511.7 1379.1 511.7 1379.3 514.5 1380.3C517.2 1381.4 522.3 1382.5 526.6 1383.1C530.8 1383.6 535.6 1383.7 540.2 1383.7C544.7 1383.6 549.5 1383.3 553.8 1382.6C558.1 1381.9 562.9 1380.6 565.9 1379.6C568.9 1378.6 570.0 1379.0 571.9 1376.6C573.8 1374.2 575.3 1369.4 577.2 1365.2C579.1 1361.1 581.4 1356.4 583.3 1351.6C585.2 1346.8 587.5 1341.3 588.6 1336.5C589.7 1331.7 589.9 1327.4 589.8 1322.9C589.7 1318.3 589.0 1313.8 587.8 1309.2C586.6 1304.7 584.9 1299.7 582.5 1295.6C580.1 1291.6 576.6 1287.6 573.4 1285.0C570.3 1282.5 567.4 1282.6 563.6 1280.5C559.8 1278.4 554.8 1273.8 550.8 1272.2C546.7 1270.5 543.2 1270.7 539.4 1270.7C535.6 1270.7 531.8 1270.4 528.1 1272.2C524.3 1274.0 520.3 1278.9 516.7 1281.3Z"/>
<path class="s" d="M516.7 1281.3C517.1 1280.0 518.6 1277.5 520.5 1276.0C522.4 1274.5 524.9 1273.1 528.1 1272.2C531.2 1271.3 535.6 1270.7 539.4 1270.7C543.2 1270.7 547.6 1271.3 550.8 1272.2C553.9 1273.1 556.2 1274.6 558.3 1276.0C560.5 1277.4 563.4 1279.2 563.6 1280.5C563.9 1281.8 562.0 1282.6 559.8 1283.5C557.7 1284.4 554.2 1285.3 550.8 1285.8C547.4 1286.3 543.4 1286.6 539.4 1286.6C535.4 1286.6 530.1 1286.3 526.6 1285.8C523.0 1285.3 519.9 1284.3 518.2 1283.5C516.6 1282.8 516.3 1282.5 516.7 1281.3Z"/>
<path class="s" d="M509.6 1377.3C510.4 1378.0 511.6 1380.4 514.5 1381.5C517.3 1382.7 522.3 1383.4 526.6 1384.0C530.8 1384.5 535.6 1384.8 540.2 1384.7C544.7 1384.7 549.5 1384.3 553.8 1383.7C558.1 1383.0 562.7 1381.8 565.9 1380.6C569.0 1379.5 571.6 1377.4 572.7 1376.7"/>
<ellipse class="s" cx="539.6" cy="1271.7" rx="7.0" ry="1.3" transform="rotate(0.0 539.6 1271.7)"/>
<path class="s" d="M799.2 1207.6L797.0 1254.2"/>
<path class="s" d="M806.1 1207.6L803.8 1254.2"/>
<path class="w" d="M824.7 1361.5C825.5 1359.8 827.7 1354.7 829.5 1351.3C831.3 1347.8 833.5 1344.7 835.5 1340.7C837.6 1336.6 839.8 1331.9 841.6 1327.1C843.4 1322.3 845.3 1316.7 846.1 1311.9C847.0 1307.1 847.3 1302.9 846.9 1298.3C846.5 1293.8 845.5 1288.7 843.9 1284.7C842.2 1280.7 839.7 1277.1 837.1 1274.1C834.4 1271.1 830.8 1268.2 828.0 1266.6C825.2 1264.9 823.4 1266.1 820.4 1264.3C817.4 1262.5 813.1 1257.7 809.8 1256.0C806.6 1254.3 803.8 1254.4 800.8 1254.2C797.7 1254.0 794.5 1254.2 791.7 1254.8C788.9 1255.3 786.4 1256.1 784.1 1257.5C781.8 1258.8 780.8 1261.1 778.1 1262.8C775.3 1264.4 770.8 1265.2 767.5 1267.3C764.2 1269.5 761.1 1272.2 758.4 1275.6C755.8 1279.0 753.4 1283.2 751.6 1287.7C749.8 1292.3 748.4 1298.1 747.8 1302.9C747.2 1307.6 747.3 1311.9 747.8 1316.5C748.3 1321.0 749.6 1325.8 750.8 1330.1C752.1 1334.4 753.7 1338.4 755.4 1342.2C757.0 1346.0 759.4 1350.1 760.7 1352.8C762.0 1355.5 762.8 1357.6 763.2 1358.5"/>
<path class="s" d="M778.1 1262.8C779.8 1262.4 784.9 1260.9 788.7 1260.5C792.4 1260.1 796.7 1260.0 800.8 1260.2C804.8 1260.5 809.5 1261.3 812.9 1262.0C816.3 1262.8 819.8 1264.3 821.2 1264.7"/>
<ellipse class="w" cx="793.6" cy="1360.5" rx="31.2" ry="8.0" transform="rotate(4.0 793.6 1360.5)"/>
<ellipse class="s" cx="793.6" cy="1360.5" rx="29.6" ry="6.6" transform="rotate(4.0 793.6 1360.5)"/>
<path class="s" d="M716.2 1037.8L716.6 1086.0"/>
<path class="s" d="M723.5 1037.8L724.0 1086.0"/>
<path class="w" d="M686.7 931.2C685.2 933.4 683.3 937.7 681.4 941.8C679.5 945.8 677.1 950.6 675.4 955.4C673.6 960.2 671.9 965.5 670.8 970.5C669.8 975.5 669.0 980.8 669.0 985.6C669.1 990.4 669.8 995.0 671.1 999.2C672.5 1003.5 674.4 1007.8 676.9 1011.3C679.4 1014.9 682.7 1017.9 686.0 1020.4C689.2 1022.9 693.8 1024.3 696.6 1026.5C699.3 1028.6 700.3 1031.6 702.6 1033.3C704.9 1035.0 707.1 1036.1 710.2 1036.8C713.2 1037.4 717.2 1037.4 720.8 1037.4C724.3 1037.3 728.3 1037.2 731.3 1036.3C734.4 1035.4 737.0 1033.5 738.9 1031.8C740.8 1030.0 739.9 1028.1 742.7 1025.7C745.5 1023.3 752.0 1020.5 755.5 1017.4C759.1 1014.2 761.8 1010.6 763.9 1006.8C765.9 1003.0 767.2 999.0 768.0 994.7C768.7 990.4 768.7 985.6 768.4 981.1C768.1 976.6 767.3 972.0 766.1 967.5C765.0 962.9 763.4 958.2 761.6 953.9C759.8 949.6 757.4 945.7 755.5 941.8C753.7 937.9 752.0 932.9 750.3 930.4C748.5 927.9 747.6 927.8 745.0 926.9C742.3 926.1 738.9 925.6 734.4 925.1C729.8 924.7 723.3 924.3 717.7 924.4C712.2 924.4 705.6 924.8 701.1 925.4C696.6 926.1 692.9 927.2 690.5 928.2C688.1 929.1 688.2 928.9 686.7 931.2Z"/>
<path class="s" d="M696.6 1026.5C697.6 1026.0 700.1 1024.3 702.6 1023.4C705.1 1022.6 708.7 1022.0 711.7 1021.6C714.7 1021.3 717.5 1021.1 720.8 1021.2C724.0 1021.3 727.7 1021.5 731.3 1022.2C735.0 1023.0 740.8 1025.1 742.7 1025.7"/>
<path class="s" d="M686.7 931.2C687.9 930.9 690.9 929.9 693.5 929.4C696.2 928.8 698.6 928.3 702.6 927.8C706.6 927.4 712.4 927.0 717.7 926.9C723.0 926.9 729.8 927.2 734.4 927.5C738.9 927.8 742.3 928.3 745.0 928.8C747.6 929.2 749.4 930.1 750.3 930.4"/>
<ellipse class="s" cx="720.0" cy="1037.1" rx="7.5" ry="1.3" transform="rotate(0.0 720.0 1037.1)"/>
</svg>
</body></html>
